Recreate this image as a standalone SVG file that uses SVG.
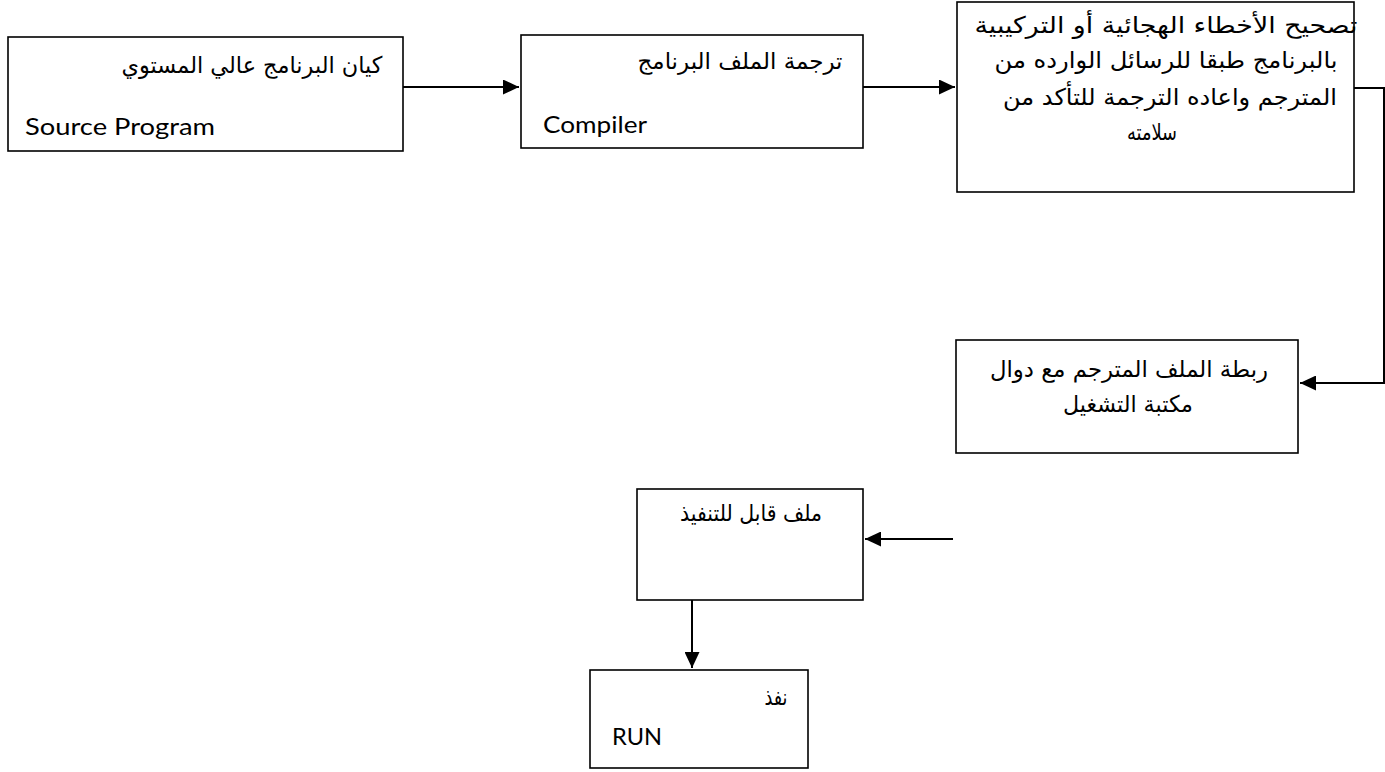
<svg xmlns="http://www.w3.org/2000/svg" width="1385" height="772" viewBox="0 0 1385 772">
<style>
.box{fill:#fff;stroke:#000;stroke-width:1.6}
.ar{font-family:"DejaVu Sans",sans-serif;font-size:23px;fill:#000;text-anchor:middle}
.en{font-family:Lato,"Open Sans",sans-serif;font-size:23px;fill:#000}
.conn{fill:none;stroke:#000;stroke-width:2}
</style>
<defs>
<marker id="arr" markerUnits="userSpaceOnUse" markerWidth="16" markerHeight="15" refX="16" refY="7.5" orient="auto">
<path d="M0,0 L16,7.5 L0,15 z" fill="#000"/>
</marker>
</defs>
<rect width="1385" height="772" fill="#fff"/>
<g id="connectors">
<path class="conn" d="M402,87 H519" marker-end="url(#arr)"/>
<path class="conn" d="M863,87 H955" marker-end="url(#arr)"/>
<path class="conn" d="M1354,88 H1384 V383 H1300" marker-end="url(#arr)"/>
<path class="conn" d="M953,539 H865" marker-end="url(#arr)"/>
<path class="conn" d="M692,600 V668" marker-end="url(#arr)"/>
</g>
<g id="source">
<rect class="box" x="8" y="37" width="395" height="114"/>
<text class="ar" x="252" y="73" textLength="261" lengthAdjust="spacingAndGlyphs">كيان البرنامج عالي المستوي</text>
<text class="en" x="25" y="135" textLength="190" lengthAdjust="spacingAndGlyphs">Source Program</text>
</g>
<g id="compiler">
<rect class="box" x="521" y="35" width="342" height="113"/>
<text class="ar" x="740" y="69" textLength="205" lengthAdjust="spacingAndGlyphs">ترجمة الملف البرنامج</text>
<text class="en" x="543" y="133" textLength="104" lengthAdjust="spacingAndGlyphs">Compiler</text>
</g>
<g id="fix">
<rect class="box" x="957" y="2" width="397" height="190"/>
<text class="ar" x="1166" y="33" textLength="383" lengthAdjust="spacingAndGlyphs">تصحيح الأخطاء الهجائية أو التركيبية</text>
<text class="ar" x="1166" y="68" textLength="343" lengthAdjust="spacingAndGlyphs">بالبرنامج طبقا للرسائل الوارده من</text>
<text class="ar" x="1170" y="105" textLength="334" lengthAdjust="spacingAndGlyphs">المترجم واعاده الترجمة للتأكد من</text>
<text class="ar" x="1152" y="140" textLength="50" lengthAdjust="spacingAndGlyphs">سلامته</text>
</g>
<g id="link">
<rect class="box" x="956" y="340" width="342" height="113"/>
<text class="ar" x="1129" y="377" textLength="278" lengthAdjust="spacingAndGlyphs">ربطة الملف المترجم مع دوال</text>
<text class="ar" x="1128" y="412" textLength="130" lengthAdjust="spacingAndGlyphs">مكتبة التشغيل</text>
</g>
<g id="executable">
<rect class="box" x="637" y="489" width="226" height="111"/>
<text class="ar" x="751" y="521" textLength="142" lengthAdjust="spacingAndGlyphs">ملف قابل للتنفيذ</text>
</g>
<g id="run">
<rect class="box" x="590" y="670" width="218" height="98"/>
<text class="ar" x="776" y="705" textLength="23" lengthAdjust="spacingAndGlyphs">نفذ</text>
<text class="en" x="612" y="745" textLength="50" lengthAdjust="spacingAndGlyphs">RUN</text>
</g>
</svg>
